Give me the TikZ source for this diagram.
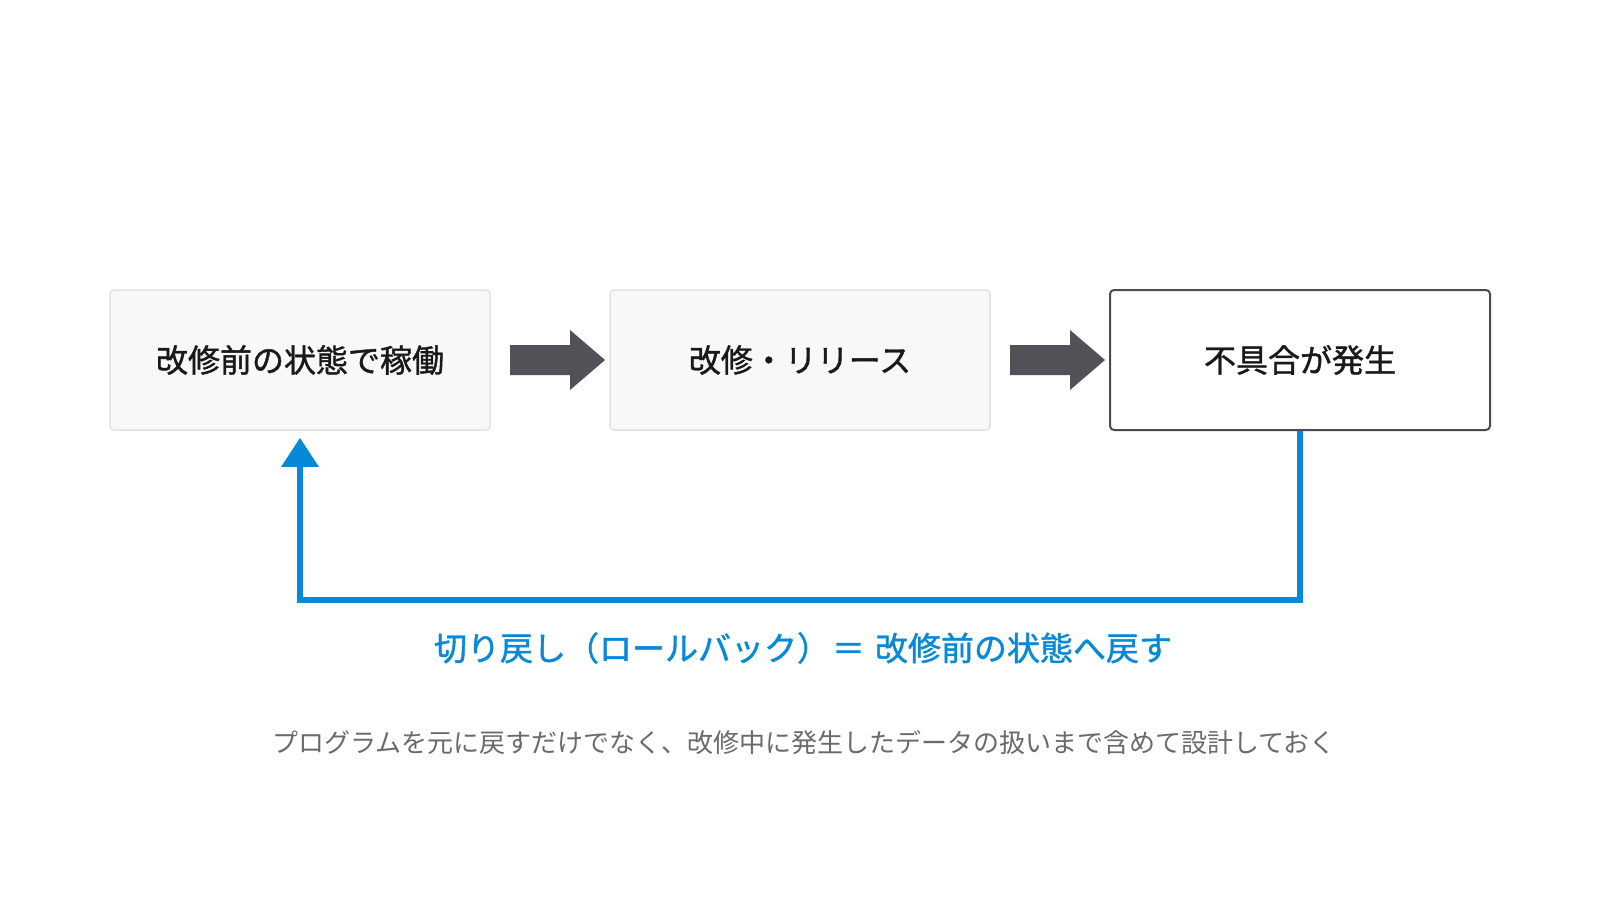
\documentclass[tikz,border=0pt]{standalone}
\usepackage{fontspec}
\setmainfont{Noto Sans CJK JP}
\newfontfamily\cjkmed[FakeBold=1.2]{Noto Sans CJK JP}
\usetikzlibrary{arrows.meta}
\definecolor{boxfill}{HTML}{F8F8F8}
\definecolor{boxline}{HTML}{E2E2E6}
\definecolor{darkline}{HTML}{4A4A50}
\definecolor{arrowgray}{HTML}{515158}
\definecolor{rollblue}{HTML}{0789DA}
\definecolor{notegray}{HTML}{6A6A6A}
\tikzset{
  stagebox/.style={rectangle, rounded corners=4pt, minimum width=380pt, minimum height=140pt,
    inner sep=0pt, font=\cjkmed\fontsize{32}{38}\selectfont, text=black!90},
  lightbox/.style={stagebox, fill=boxfill, draw=boxline, line width=1.5pt},
  darkbox/.style={stagebox, fill=white, draw=darkline, line width=2pt},
  blockarrow/.style={fill=arrowgray, draw=none},
  rollline/.style={draw=rollblue, line width=6pt, -{Triangle[width=36pt,length=29pt]}, shorten >=7pt},
  rolllabel/.style={font=\cjkmed\fontsize{33}{38}\selectfont, text=rollblue},
  notelabel/.style={font=\fontsize{26}{30}\selectfont, text=notegray}
}
\newcommand{\blockarrowat}[1]{%
  \fill[blockarrow] (#1) ++(0,-15) -- ++(60,0) -- ++(0,-15) -- ++(35,30) -- ++(-35,30) -- ++(0,-15) -- ++(-60,0) -- cycle;}
\begin{document}
\begin{tikzpicture}[x=1pt,y=-1pt]
\useasboundingbox (0,0) rectangle (1600,900);
\node[lightbox] (b1) at (300,360) {改修前の状態で稼働};
\node[lightbox] (b2) at (800,360) {改修・リリース};
\node[darkbox] (b3) at (1300,360) {不具合が発生};
\coordinate (a1) at (510,360);
\coordinate (a2) at (1010,360);
\blockarrowat{a1}
\blockarrowat{a2}
\coordinate (turn) at (300,600);
\draw[rollline] (b3.south) |- (turn) -- (b1.south);
\node[rolllabel] (roll) at (803,648) {切り戻し（ロールバック）\hspace{2pt}＝\hspace{10pt}改修前の状態へ戻す};
\node[notelabel] (note) at (804,743) {プログラムを元に戻すだけでなく、改修中に発生したデータの扱いまで含めて設計しておく};
\end{tikzpicture}
\end{document}
